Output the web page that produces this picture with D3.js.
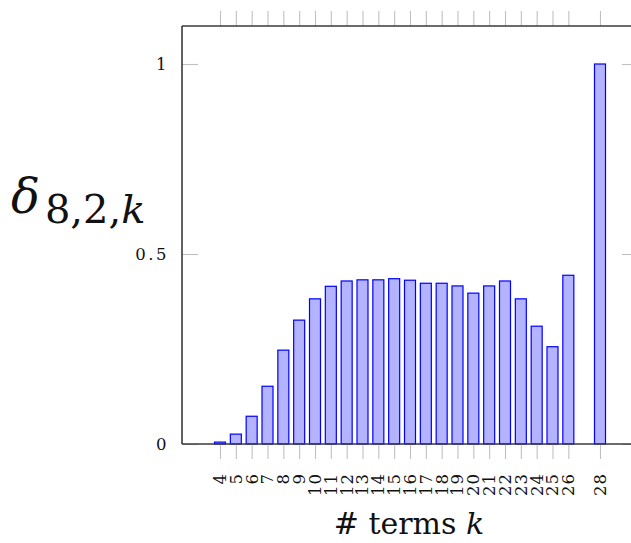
<!DOCTYPE html>
<html><head><meta charset="utf-8">
<script src="https://cdn.jsdelivr.net/npm/d3@7"></script>
<style>html,body{margin:0;padding:0;background:#fff;overflow:hidden}</style>
</head><body>
<svg id="c" width="631" height="543"></svg>
<script>
const categories = [4,5,6,7,8,9,10,11,12,13,14,15,16,17,18,19,20,21,22,23,24,25,26,28];
const values = [0.005,0.026,0.073,0.152,0.247,0.326,0.382,0.415,0.429,0.432,0.432,0.435,0.431,0.423,0.423,0.416,0.397,0.416,0.429,0.382,0.31,0.256,0.444,1.0];
const yTicks = [0, 0.5, 1];
const yTickLabels = ["0", "0.5", "1"];

const svg = d3.select("#c");
const x = d3.scaleLinear().domain([1.6, 30.4]).range([182, 638]);
const y = d3.scaleLinear().domain([0, 1.1]).range([444, 26]);
const barW = 11;

// bars
svg.append("g").selectAll("rect").data(categories).join("rect")
  .attr("x", (d) => x(d) - barW/2)
  .attr("width", barW)
  .attr("y", (d,i) => y(values[i]))
  .attr("height", (d,i) => y(0) - y(values[i]))
  .attr("fill", "#b3b3ff")
  .attr("stroke", "#0000ff")
  .attr("stroke-width", 1.2);

// x ticks: bottom (outward) and top (outward)
const xb = d3.axisBottom(x).tickValues(categories).tickSize(15).tickFormat("");
const gxb = svg.append("g").attr("transform", `translate(0,${y(0)})`).call(xb);
const xt = d3.axisTop(x).tickValues(categories).tickSize(15).tickFormat("");
const gxt = svg.append("g").attr("transform", `translate(0,${y(1.1)})`).call(xt);
[gxb, gxt].forEach(g => { g.select(".domain").remove(); g.selectAll(".tick line").attr("stroke", "#c0c0c0").attr("stroke-width", 1.1); });

// x tick labels rotated
svg.append("g").selectAll("text").data(categories).join("text")
  .attr("transform", d => `translate(${x(d)},473) rotate(-90)`)
  .attr("text-anchor", "end")
  .attr("dy", "0.36em")
  .attr("font-family", "DejaVu Serif")
  .attr("font-size", 16.5)
  .attr("letter-spacing", 1)
  .attr("fill", "#111")
  .text(d => d);

// y ticks inside left and right
const yl = d3.axisRight(y).tickValues(yTicks).tickSize(16).tickFormat("");
const gyl = svg.append("g").attr("transform", `translate(${x(1.6)},0)`).call(yl);
const yr = d3.axisLeft(y).tickValues(yTicks).tickSize(16).tickFormat("");
const gyr = svg.append("g").attr("transform", `translate(${x(30.4)},0)`).call(yr);
[gyl, gyr].forEach(g => { g.select(".domain").remove(); g.selectAll(".tick line").attr("stroke", "#c0c0c0").attr("stroke-width", 1.1); });

// y tick labels
svg.append("g").selectAll("text").data(yTicks).join("text")
  .attr("x", 169)
  .attr("y", d => y(d))
  .attr("dy", "0.36em")
  .attr("text-anchor", "end")
  .attr("font-family", "DejaVu Serif")
  .attr("font-size", 16.5)
  .attr("letter-spacing", 2.5)
  .attr("fill", "#111")
  .text((d,i) => yTickLabels[i]);

// spines
const sp = svg.append("g").attr("fill", "none").attr("stroke", "#3a3a3a").attr("stroke-width", 1.6);
sp.append("line").attr("x1", x(1.6)).attr("x2", x(1.6)).attr("y1", y(0)).attr("y2", y(1.1));
sp.append("line").attr("x1", x(1.6)).attr("x2", x(30.4)).attr("y1", y(0)).attr("y2", y(0));
sp.append("line").attr("x1", x(1.6)).attr("x2", x(30.4)).attr("y1", y(1.1)).attr("y2", y(1.1));
sp.append("line").attr("x1", x(30.4)).attr("x2", x(30.4)).attr("y1", y(0)).attr("y2", y(1.1));

// x label
const xl = svg.append("text").attr("x", 409).attr("y", 534).attr("text-anchor", "middle")
  .attr("font-family", "DejaVu Serif").attr("font-size", 30).attr("fill", "#111");
xl.append("tspan").text("# terms ");
xl.append("tspan").attr("font-style", "italic").text("k");

// y label
const ylab = svg.append("text").attr("x", 11).attr("y", 213)
  .attr("font-family", "DejaVu Serif").attr("fill", "#111");
ylab.append("tspan").attr("font-style", "italic").attr("font-size", 48).text("δ");
ylab.append("tspan").attr("font-size", 40).attr("dy", 10).attr("dx", 5).text("8,2,");
ylab.append("tspan").attr("font-size", 40).attr("font-style", "italic").text("k");
</script>
</body></html>
